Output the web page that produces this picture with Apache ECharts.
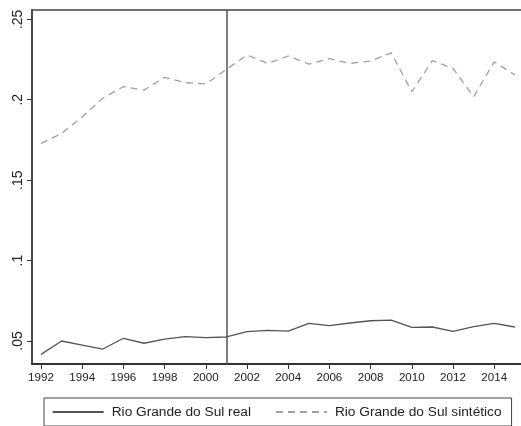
<!DOCTYPE html>
<html>
<head>
<meta charset="utf-8">
<script src="https://cdn.jsdelivr.net/npm/echarts@6/dist/echarts.min.js"></script>
<style>html,body{margin:0;padding:0;background:#fff;}#c{width:521px;height:426px;}</style>
</head>
<body>
<div id="c"></div>
<script>
const years = [1992,1993,1994,1995,1996,1997,1998,1999,2000,2001,2002,2003,2004,2005,2006,2007,2008,2009,2010,2011,2012,2013,2014,2015];
const realValues = [0.0417,0.0500,0.0475,0.0450,0.0517,0.0486,0.0512,0.0527,0.0521,0.0525,0.0558,0.0566,0.0562,0.0610,0.0595,0.0612,0.0626,0.0630,0.0585,0.0587,0.0560,0.0589,0.0610,0.0587];
const synthValues = [0.1729,0.1790,0.1894,0.2010,0.2081,0.2060,0.2139,0.2106,0.2098,0.2189,0.2278,0.2226,0.2272,0.2222,0.2255,0.2226,0.2241,0.2292,0.2050,0.2243,0.2195,0.2019,0.2236,0.2154];
const xTicks = [1992,1994,1996,1998,2000,2002,2004,2006,2008,2010,2012,2014];
const yTicks = [0.05,0.10,0.15,0.20,0.25];
const treatYear = 2001;
const seriesNames = ['Rio Grande do Sul real','Rio Grande do Sul sintético'];

const font = '"Liberation Sans", Arial, sans-serif';
const chart = echarts.init(document.getElementById('c'));
const fmtY = v => (Math.round(v*100)/100).toString().replace(/^0/, '');
chart.setOption({
  animation: false,
  textStyle: {fontFamily: font},
  grid: {left: 32, top: 10, right: 0, height: 354, show: false, containLabel: false, outerBoundsMode: 'none'},
  xAxis: [{
    type: 'value', min: 1991.563, max: 2015.3,
    axisLine: {show: true, onZero: false, lineStyle: {color: '#333', width: 1.8}},
    axisTick: {show: true, length: 5, lineStyle: {color: '#333', width: 1}, customValues: xTicks},
    axisLabel: {color: '#222', fontSize: 11.6, margin: 8, customValues: xTicks, formatter: v => String(v)},
    splitLine: {show: false}
  }, {
    type: 'value', position: 'top', min: 1991.563, max: 2015.3,
    axisLine: {show: true, onZero: false, lineStyle: {color: '#444', width: 1.5}},
    axisTick: {show: false}, axisLabel: {show: false}, splitLine: {show: false}
  }],
  yAxis: {
    type: 'value', min: 0.0357, max: 0.2558,
    axisLine: {show: true, onZero: false, lineStyle: {color: '#333', width: 1.8}},
    axisTick: {show: true, length: 5, lineStyle: {color: '#333', width: 1}, customValues: yTicks},
    axisLabel: {color: '#222', fontSize: 14, margin: 7, rotate: 90, customValues: yTicks, formatter: fmtY},
    splitLine: {show: false}
  },
  legend: {
    left: 44, top: 398,
    padding: [7, 10, 7, 7.7],
    itemGap: 24, itemWidth: 51, itemHeight: 14,
    borderColor: '#444', borderWidth: 1,
    itemStyle: {opacity: 0},
    textStyle: {color: '#222', fontSize: 13.7, fontFamily: font, padding: [0, 0, 0, 3]},
    data: seriesNames
  },
  series: [
    {
      name: seriesNames[0], type: 'line', symbol: 'none',
      data: years.map((y,i) => [y, realValues[i]]),
      lineStyle: {color: '#555', width: 1.3},
      itemStyle: {color: '#555'},
      markLine: {
        silent: true, symbol: 'none', label: {show: false},
        lineStyle: {color: '#555', width: 1.5, type: 'solid'},
        data: [{xAxis: treatYear}]
      }
    },
    {
      name: seriesNames[1], type: 'line', symbol: 'none',
      data: years.map((y,i) => [y, synthValues[i]]),
      lineStyle: {color: '#a0a0a0', width: 1.3, type: [7, 5]},
      itemStyle: {color: '#a0a0a0'}
    }
  ]
});
</script>
</body>
</html>
